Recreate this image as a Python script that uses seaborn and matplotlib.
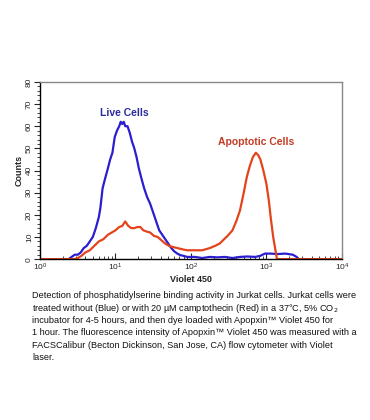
import numpy as np
import pandas as pd
import matplotlib
matplotlib.use('Agg')
import matplotlib.pyplot as plt
import matplotlib.ticker as mticker
import seaborn as sns

# ── Data (channel position as log10 of intensity, counts) ─────────────────
blue_logx = [0.00, 0.38, 0.42, 0.46, 0.50, 0.54, 0.58, 0.62, 0.66, 0.70,
             0.74, 0.78, 0.80, 0.83, 0.86, 0.90, 0.93, 0.96, 0.99, 1.02,
             1.05, 1.07, 1.09, 1.11, 1.13, 1.16, 1.19, 1.22, 1.25, 1.28,
             1.31, 1.34, 1.38, 1.42, 1.46, 1.50, 1.54, 1.58, 1.62, 1.66,
             1.70, 1.74, 1.78, 1.82, 1.86, 1.90, 1.95, 2.05, 2.15, 2.25,
             2.35, 2.45, 2.55, 2.65, 2.75, 2.85, 2.92, 2.98, 3.05, 3.15,
             3.25, 3.35, 3.40, 3.43, 4.00]
blue_counts = [0, 0, 1, 2, 2, 3, 5, 6, 8, 10,
               14, 19, 23, 32, 36, 41, 45, 48, 55, 58,
               60, 62, 61, 62, 60, 60, 57, 53, 50, 46,
               41, 37, 32, 28, 25, 21, 17, 13, 11, 9,
               7, 5, 3.5, 2.5, 1.8, 1.5, 1, 1, 0.5, 1,
               0.8, 1, 0.5, 1, 1.2, 1, 1.5, 2.5, 2.5, 2.3,
               2.5, 2, 1, 0, 0]

red_logx = [0.00, 0.46, 0.50, 0.55, 0.60, 0.66, 0.72, 0.78, 0.84, 0.90,
            0.95, 1.00, 1.05, 1.09, 1.13, 1.17, 1.21, 1.25, 1.29, 1.33,
            1.37, 1.41, 1.46, 1.51, 1.56, 1.61, 1.66, 1.71, 1.76, 1.82,
            1.88, 1.95, 2.05, 2.15, 2.25, 2.32, 2.38, 2.44, 2.50, 2.55,
            2.60, 2.65, 2.70, 2.74, 2.78, 2.82, 2.86, 2.89, 2.92, 2.96,
            3.00, 3.03, 3.06, 3.09, 3.12, 3.14, 4.00]
red_counts = [0, 0, 0.5, 1.5, 3, 4, 6, 8, 9, 11,
              12, 13, 14.5, 15, 17, 15, 14, 14, 14.5, 14.5,
              13, 12.5, 12, 10.5, 10, 8.5, 7, 6, 5.5, 5,
              4.5, 4, 4, 4, 5, 6, 7, 9, 11, 13,
              17, 22, 30, 37, 42, 46, 48, 47, 45, 40,
              34, 27, 18, 10, 4, 0, 0]

caption_lines = [
    "Detection of phosphatidylserine binding activity in Jurkat cells. Jurkat cells were",
    "treated without (Blue) or with 20 \u00b5M camptothecin (Red) in a 37\u00b0C, 5% CO$_2$",
    "incubator for 4-5 hours, and then dye loaded with Apopxin\u2122 Violet 450 for",
    "1 hour. The fluorescence intensity of Apopxin\u2122 Violet 450 was measured with a",
    "FACSCalibur (Becton Dickinson, San Jose, CA) flow cytometer with Violet",
    "laser.",
]

df = pd.concat([
    pd.DataFrame({'x': 10 ** np.array(blue_logx), 'count': blue_counts, 'sample': 'Live'}),
    pd.DataFrame({'x': 10 ** np.array(red_logx), 'count': red_counts, 'sample': 'Apoptotic'}),
])

# ── Plot ──────────────────────────────────────────────────────────────────
sns.set_style('white')
plt.rcParams['font.family'] = ['Liberation Sans', 'DejaVu Sans']

fig = plt.figure(figsize=(3.7, 4.2), dpi=100)
ax = fig.add_axes([0.108, 0.383, 0.816, 0.422])

sns.lineplot(data=df, x='x', y='count', hue='sample', sort=False,
             palette={'Live': '#2a1ed0', 'Apoptotic': '#e4441c'},
             linewidth=1.6, legend=False, ax=ax)

ax.set_xscale('log')
ax.set_xlim(1, 1e4)
ax.set_ylim(0, 80)
ax.xaxis.set_major_locator(mticker.LogLocator(base=10))
ax.xaxis.set_minor_locator(mticker.LogLocator(base=10, subs=np.arange(2, 10)))
ax.xaxis.set_minor_formatter(mticker.NullFormatter())
ax.yaxis.set_major_locator(mticker.MultipleLocator(10))
ax.yaxis.set_minor_locator(mticker.MultipleLocator(2))

ax.tick_params(axis='x', which='major', direction='in', length=4, width=0.8,
               labelsize=6, pad=2)
ax.tick_params(axis='x', which='minor', direction='in', length=2, width=0.6)
ax.tick_params(axis='y', which='major', direction='out', length=4, width=0.8,
               labelsize=6, pad=1, left=True)
ax.tick_params(axis='y', which='minor', direction='out', length=2, width=0.6,
               left=True)
ax.tick_params(axis='x', bottom=True, which='both')
for lab in ax.get_yticklabels():
    lab.set_rotation(90)
    lab.set_va('center')

for side in ['left', 'bottom']:
    ax.spines[side].set_color('black')
    ax.spines[side].set_linewidth(1.0)
for side in ['top', 'right']:
    ax.spines[side].set_color('#888888')
    ax.spines[side].set_linewidth(1.0)

ax.set_xlabel('Violet 450', fontsize=6.5, fontweight='bold', labelpad=1)
ax.set_ylabel('Counts', fontsize=6.5, fontweight='bold', labelpad=2)

ax.text(13, 66, 'Live Cells', color='#2b2b9c', fontsize=7.5,
        fontweight='bold', ha='center', va='center')
ax.text(720, 53, 'Apoptotic Cells', color='#c43a24', fontsize=7.5,
        fontweight='bold', ha='center', va='center')

y0 = 1 - 296 / 420
for i, line in enumerate(caption_lines):
    fig.text(32 / 370, y0 - i * 12.3 / 420, line, fontsize=6.6,
             ha='left', va='center', color='#111111')

plt.savefig('out.png', dpi=100)
